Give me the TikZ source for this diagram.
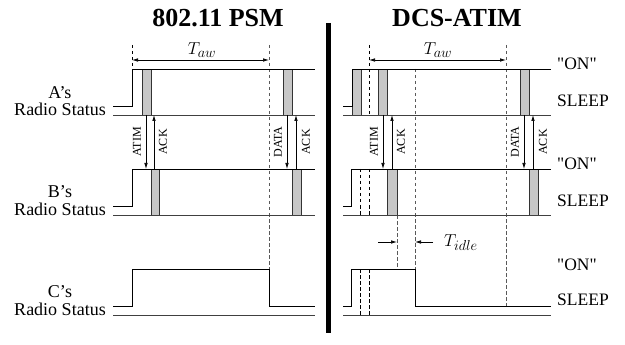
\documentclass[tikz,border=0pt]{standalone}
\usepackage{fontspec}
\setmainfont{Liberation Serif}
\newfontfamily\rawserif{Liberation Serif}[Ligatures=TeXOff]
\usetikzlibrary{arrows.meta}
\newcommand{\qon}{{\rawserif "ON"}}
\begin{document}
\begin{tikzpicture}[x=1pt,y=-1pt,
  sig/.style={line width=0.8pt},
  axisline/.style={line width=0.8pt, draw=black!75},
  pkt/.style={fill=black!22, draw=black!80, line width=0.7pt},
  dsh/.style={dashed, dash pattern=on 3.5pt off 2.5pt, line width=0.7pt},
  gdsh/.style={dashed, dash pattern=on 3.5pt off 2.5pt, line width=0.7pt, draw=black!65},
  msg/.style={-{Latex[length=6pt,width=3.5pt]}, line width=0.7pt},
  dim/.style={{Latex[length=6pt,width=3.5pt]}-{Latex[length=6pt,width=3.5pt]}, line width=0.7pt},
  lbl/.style={font=\fontsize{18}{19}\selectfont, inner sep=0pt, anchor=base},
  rlbl/.style={font=\fontsize{12}{13}\selectfont, inner sep=0pt, rotate=90},
  ttl/.style={font=\fontsize{26}{28}\selectfont\bfseries, inner sep=0pt},
  mth/.style={font=\fontsize{19}{20}\selectfont, inner sep=0pt},
  side/.style={font=\fontsize{17.5}{18}\selectfont, inner sep=0pt, anchor=west}]
\useasboundingbox (0,0) rectangle (625,345);

% titles
\node[ttl] (t1) at (218,18) {802.11 PSM};
\node[ttl] (t2) at (457,18) {DCS-ATIM};

% divider
\draw[line width=5pt] (328,23) -- (328,333);

% row labels
\node[lbl] (la1) at (60,98.5) {A's};
\node[lbl] (la2) at (60,116) {Radio Status};
\node[lbl] (lb1) at (60,197.5) {B's};
\node[lbl] (lb2) at (60,215) {Radio Status};
\node[lbl] (lc1) at (60,297.5) {C's};
\node[lbl] (lc2) at (60,315) {Radio Status};

% ===== left panel =====
\draw[dsh] (132,45) -- (132,69);
\draw[gdsh] (269,45) -- (269,269);
\draw[dim] (132,60) -- (269,60);
\node[mth] (taw1) at (202,50) {$T_{aw}$};

% packets A
\draw[pkt] (142,69) rectangle (151,115);
\draw[pkt] (283,69) rectangle (292,115);
% packets B
\draw[pkt] (151,169) rectangle (159,215);
\draw[pkt] (292,169) rectangle (301,215);

% signals
\draw[sig] (113,106) -- (132,106) -- (132,69) -- (315,69);
\draw[axisline] (113,115) -- (315,115);
\draw[sig] (113,206) -- (132,206) -- (132,169) -- (315,169);
\draw[axisline] (113,215) -- (315,215);
\draw[sig] (113,306) -- (132,306) -- (132,269) -- (269,269) -- (269,306) -- (315,306);
\draw[axisline] (113,315) -- (315,315);

% messages
\draw[msg] (146,115) -- (146,169);
\draw[msg] (154,169) -- (154,115);
\draw[msg] (287,115) -- (287,169);
\draw[msg] (296,169) -- (296,115);
\node[rlbl] (m1) at (137,142) {ATIM};
\node[rlbl] (m2) at (163,142) {ACK};
\node[rlbl] (m3) at (278,142) {DATA};
\node[rlbl] (m4) at (306,142) {ACK};

% ===== right panel =====
\draw[dsh] (369,45) -- (369,69);
\draw[gdsh] (506,45) -- (506,306);
\draw[gdsh] (415,69) -- (415,269);
\draw[gdsh] (397,215) -- (397,269);
\draw[dim] (369,60) -- (506,60);
\node[mth] (taw2) at (438,50) {$T_{aw}$};

% packets A
\draw[pkt] (352,69) rectangle (361,115);
\draw[pkt] (378,69) rectangle (387,115);
\draw[pkt] (520,69) rectangle (529,115);
% packets B
\draw[pkt] (387,169) rectangle (397,215);
\draw[pkt] (529,169) rectangle (538,215);

% dashed inside A, B, C
\draw[dsh] (369,69) -- (369,115);
\draw[dsh] (360,169) -- (360,215);
\draw[dsh] (369,169) -- (369,215);
\draw[dsh] (360,269) -- (360,315);
\draw[dsh] (369,269) -- (369,315);

% signals
\draw[sig] (343,106) -- (352,106) -- (352,69) -- (551,69);
\draw[axisline] (343,115) -- (551,115);
\draw[sig] (343,206) -- (351,206) -- (351,169) -- (551,169);
\draw[axisline] (343,215) -- (551,215);
\draw[sig] (343,306) -- (351,306) -- (351,269) -- (415,269) -- (415,306) -- (551,306);
\draw[axisline] (343,315) -- (551,315);

% messages
\draw[msg] (383,115) -- (383,169);
\draw[msg] (392,169) -- (392,115);
\draw[msg] (524,115) -- (524,169);
\draw[msg] (533,169) -- (533,115);
\node[rlbl] (n1) at (374,142) {ATIM};
\node[rlbl] (n2) at (401,142) {ACK};
\node[rlbl] (n3) at (515,142) {DATA};
\node[rlbl] (n4) at (543,142) {ACK};

% T_idle
\coordinate (ia) at (378,242);
\coordinate (ib) at (397,242);
\coordinate (ic) at (433,242);
\coordinate (id) at (415,242);
\draw[msg] (ia) -- (ib);
\draw[msg] (ic) -- (id);
\node[mth, anchor=west] (tidle) at (444,243) {$T_{idle}$};

% side labels
\node[side] (on1) at (557,64) {\qon};
\node[side] (sl1) at (557,101) {SLEEP};
\node[side] (on2) at (557,164) {\qon};
\node[side] (sl2) at (557,201) {SLEEP};
\node[side] (on3) at (557,265) {\qon};
\node[side] (sl3) at (557,300) {SLEEP};
\end{tikzpicture}
\end{document}
